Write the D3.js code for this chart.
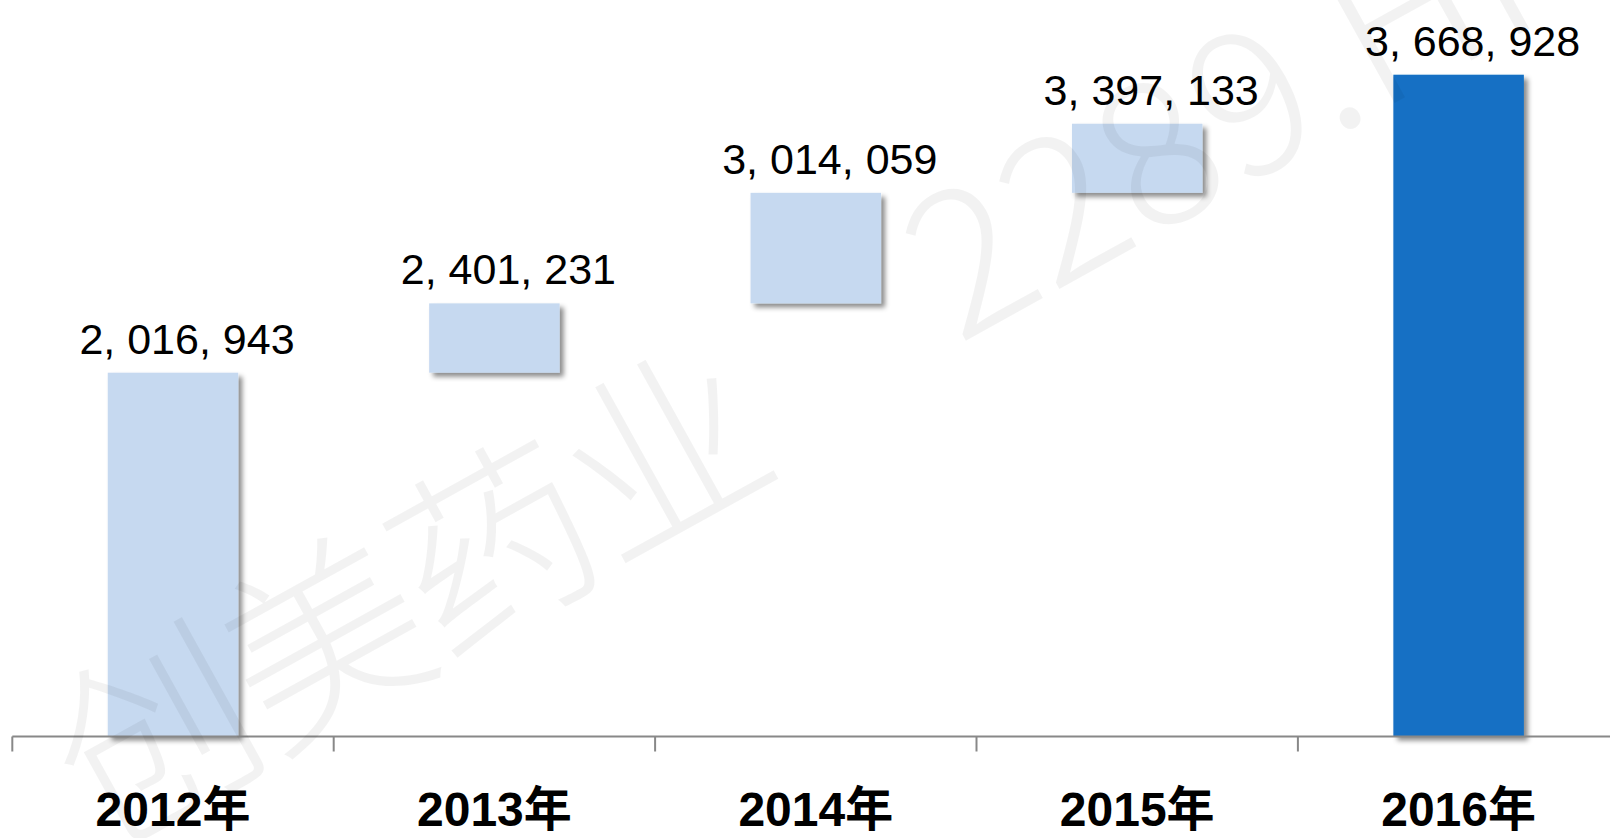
<!DOCTYPE html>
<html>
<head>
<meta charset="utf-8">
<script src="https://cdn.jsdelivr.net/npm/d3@7"></script>
<style>
  html, body { margin: 0; padding: 0; background: #fff; }
  svg { display: block; }
</style>
</head>
<body>
<div id="chart"></div>
<script>
// ---- data ----
const years = ["2012年", "2013年", "2014年", "2015年", "2016年"];
const totals = [2016943, 2401231, 3014059, 3397133, 3668928];
const barKind = ["total", "step", "step", "step", "total"]; // step bars float on previous total
const highlight = [false, false, false, false, true];
const watermarkCn = "创美药业";
const watermarkCode = "2289.HK";

// ---- layout ----
const W = 1610, H = 838;
const svg = d3.select("#chart").append("svg").attr("width", W).attr("height", H);

const defs = svg.append("defs");
const f = defs.append("filter").attr("id", "shadow")
  .attr("x", "-10%").attr("y", "-10%").attr("width", "130%").attr("height", "130%");
f.append("feDropShadow").attr("dx", 4).attr("dy", 4).attr("stdDeviation", 2.5)
  .attr("flood-color", "#000").attr("flood-opacity", 0.45);

const x = d3.scaleBand().domain(years).range([12.3, 1619.3])
  .paddingInner(0.594).paddingOuter(0.297);
const y = d3.scaleLinear().domain([0, 4000000]).range([736.5, 15]);

const rows = years.map((yr, i) => ({
  year: yr,
  top: totals[i],
  base: barKind[i] === "step" ? totals[i - 1] : 0,
  hi: highlight[i]
}));

// bars
svg.append("g").selectAll("rect").data(rows).join("rect")
  .attr("x", d => x(d.year))
  .attr("width", x.bandwidth())
  .attr("y", d => y(d.top))
  .attr("height", d => y(d.base) - y(d.top))
  .attr("fill", d => d.hi ? "#1270C4" : "#C6D9F0")
  .attr("filter", "url(#shadow)");

// axis line and boundary ticks
const axisG = svg.append("g");
axisG.append("line")
  .attr("x1", x.range()[0]).attr("x2", W)
  .attr("y1", y(0)).attr("y2", y(0))
  .attr("stroke", "#888").attr("stroke-width", 2);
const bounds = d3.range(years.length + 1).map(i => x.range()[0] + i * x.step());
axisG.selectAll("line.tick").data(bounds).join("line")
  .attr("class", "tick")
  .attr("x1", d => d).attr("x2", d => d)
  .attr("y1", y(0)).attr("y2", y(0) + 15)
  .attr("stroke", "#888").attr("stroke-width", 2);

// category labels
axisG.selectAll("text").data(years).join("text")
  .attr("x", d => x(d) + x.bandwidth() / 2)
  .attr("y", 826)
  .attr("text-anchor", "middle")
  .attr("font-family", "'Liberation Sans', 'Noto Sans CJK SC', sans-serif")
  .attr("font-weight", "bold")
  .attr("font-size", 48)
  .attr("fill", "#000")
  .text(d => d);

// watermark
const angle = -29;
const wm = svg.append("g").attr("fill", "#000").attr("fill-opacity", 0.05)
  .attr("font-family", "'Noto Sans CJK SC', sans-serif").attr("font-weight", 300)
  .attr("font-size", 200);
wm.append("text")
  .attr("transform", `translate(782,472) rotate(${angle})`)
  .attr("text-anchor", "end")
  .attr("letter-spacing", -6)
  .text(watermarkCn);
wm.append("text")
  .attr("transform", `translate(958,345) rotate(${angle})`)
  .attr("text-anchor", "start")
  .text(watermarkCode);

// value labels
const fmt = v => d3.format(",")(v).replace(/,/g, ", ");
svg.append("g").selectAll("text").data(rows).join("text")
  .attr("x", d => x(d.year) + x.bandwidth() / 2 + 14)
  .attr("y", d => y(d.top) - 19)
  .attr("text-anchor", "middle")
  .attr("font-family", "'Liberation Sans', Arial, sans-serif")
  .attr("font-size", 43)
  .attr("fill", "#000")
  .text(d => fmt(d.top));
</script>
</body>
</html>
